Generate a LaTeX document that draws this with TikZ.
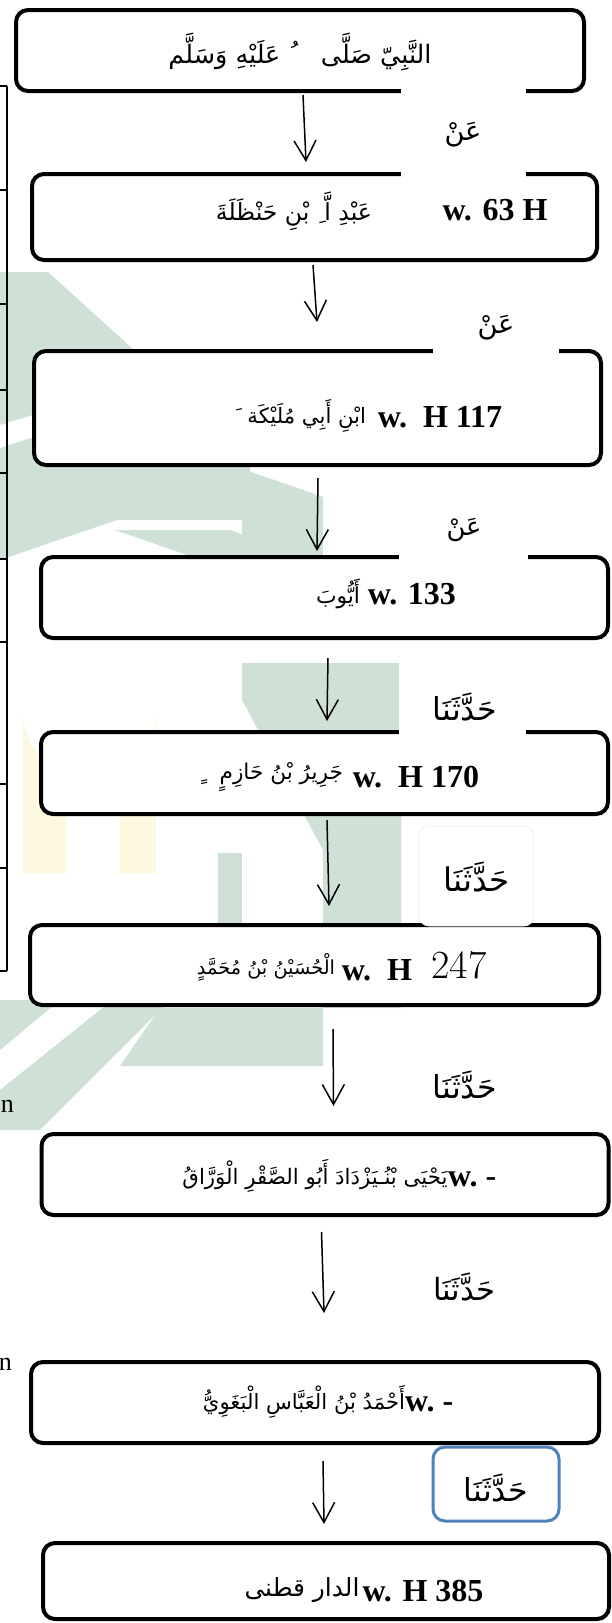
\documentclass[tikz,border=0pt]{standalone}
\usepackage{fontspec}
\usepackage{graphicx}
\newfontfamily\tnr{Liberation Serif}
\newfontfamily\ar[Script=Arabic]{DejaVu Sans}
\TeXXeTstate=1
\usetikzlibrary{arrows.meta,calc}
\newcommand\AR[2]{\resizebox{#1}{!}{\ar\beginR #2\endR}}
\definecolor{wmgreen}{RGB}{207,225,215}
\definecolor{wmyellow}{RGB}{253,249,222}
\definecolor{labblue}{RGB}{79,129,189}
\tikzset{
  box/.style={draw=black, line width=4pt, rounded corners=12pt, fill=white, inner sep=0pt},
  lat/.style={font=\tnr\bfseries\fontsize{32}{36}\selectfont, inner sep=0pt},
  artxt/.style={inner sep=0pt},
  cover/.style={fill=white, draw=none},
  arr/.style={line width=1.5pt, -{Straight Barb[length=20pt,width=22pt]}},
  tbl/.style={line width=1.2pt}
}
\begin{document}
\begin{tikzpicture}[x=1pt,y=-1pt]
\useasboundingbox (0,0) rectangle (611,1623);
\fill[white] (0,0) rectangle (611,1623);
% watermark (approximate)
\fill[wmgreen] (0,272) -- (48,272) -- (250,455) -- (250,475) -- (0,475) -- cycle;
\fill[wmgreen] (0,468) -- (240,468) -- (323,497) -- (323,520) -- (117,520) -- (0,560) -- cycle;
\fill[white] (0,425) -- (175,372) -- (195,384) -- (0,448) -- cycle;
\fill[wmgreen] (242,520) -- (323,520) -- (323,556) -- (242,556) -- cycle;
\fill[wmgreen] (115,530) -- (230,530) -- (300,556) -- (190,556) -- cycle;
\fill[wmgreen] (242,663) -- (401,663) -- (401,1008) -- (323,1008) -- (323,850) -- (242,700) -- cycle;
\fill[wmgreen] (160,1008) -- (323,1008) -- (323,1066) -- (120,1066) -- cycle;
\fill[wmgreen] (0,1000) -- (60,1000) -- (0,1050) -- cycle;
\fill[wmgreen] (0,1090) -- (200,930) -- (240,930) -- (40,1130) -- (0,1130) -- cycle;
\fill[wmgreen] (218,853) -- (242,853) -- (242,960) -- (218,960) -- cycle;
\fill[wmyellow, even odd rule] (23,873) -- (23,712) arc[start angle=180,end angle=0,radius=66.5] -- (156,873) -- cycle
  (66,873) -- (66,735) arc[start angle=180,end angle=0,radius=27] -- (120,873) -- cycle;
% left table fragment
\draw[tbl] (7,86) -- (7,971);
\foreach \yy in {86,190,304,390,473,559,642,784,868,971} \draw[tbl] (0,\yy) -- (7,\yy);
\node[anchor=east, inner sep=0pt, font=\tnr\fontsize{26}{30}\selectfont] (n1) at (14,1106) {n};
\node[anchor=east, inner sep=0pt, font=\tnr\fontsize{26}{30}\selectfont] (n2) at (12,1364) {n};
% boxes
\node[box, minimum width=568pt, minimum height=81pt] (b1) at (300,50.5) {};
\node[box, minimum width=565pt, minimum height=86pt] (b2) at (314.5,217) {};
\node[box, minimum width=567pt, minimum height=114pt] (b3) at (317.5,408) {};
\node[box, minimum width=567pt, minimum height=81pt] (b4) at (324.5,597.5) {};
\node[box, minimum width=567pt, minimum height=82pt] (b5) at (324.5,773) {};
\node[box, minimum width=569pt, minimum height=80pt] (b6) at (314.5,965) {};
\node[box, minimum width=567pt, minimum height=81pt] (b7) at (325,1174.5) {};
\node[box, minimum width=568pt, minimum height=81pt] (b8) at (315,1402.5) {};
\node[box, minimum width=566pt, minimum height=76pt] (b9) at (326,1581) {};
% white covers behind labels
\fill[cover] (401,86) rectangle (526,177);
\fill[cover] (433,300) rectangle (559,354);
\fill[cover] (399,505) rectangle (528,560);
\fill[cover] (399,650) rectangle (526,735);
\filldraw[fill=white, draw=black!6, line width=0.8pt, rounded corners=10pt] (419,826) rectangle (534,926);
\filldraw[fill=white, draw=labblue, line width=3pt, rounded corners=12pt] (433,1447) rectangle (559,1521);
% texts in boxes
\node[artxt] (t1) at (300,52) {\AR{263pt}{النَّبِيّ صَلَّى\ \ \ \ ُ عَلَيْهِ وَسَلَّم}};
\node[artxt] (t2) at (294,211) {\AR{156pt}{عَبْدِ اَّ ِ بْنِ حَنْظَلَةَ}};
\node[lat] (w2) at (495,210) {w. 63 H};
\node[artxt] (t3) at (300,416) {\AR{132pt}{ابْنِ أَبِي مُلَيْكَة\ \ َ}};
\node[lat] (w3) at (440,417) {w.\ \ H 117};
\node[artxt] (t4) at (338,594) {\AR{44pt}{أَيُّوبَ}};
\node[lat] (w4) at (412,594) {w. 133};
\node[artxt] (t5) at (271,777) {\AR{144pt}{جَرِيرُ بْنُ حَازِمٍ\ \ \ ٍ}};
\node[lat] (w5) at (416,777) {w.\ \ H 170};
\node[artxt] (t6) at (266,967) {\AR{138pt}{الْحُسَيْنُ بْنُ مُحَمَّدٍ}};
\node[lat] (w6) at (377,970) {w.\ \ H};
\node[inner sep=0pt, font=\fontsize{40}{44}\selectfont] (y6) at (459,965) {247};
\node[artxt] (t7) at (315,1176) {\AR{265pt}{يَحْيَى بْنُـيَزْدَادَ أَبُو الصَّقْرِ الْوَرَّاقُ}};
\node[lat, anchor=west] (w7) at (448,1179) {w.\ -};
\node[artxt] (t8) at (304,1402) {\AR{202pt}{أَحْمَدُ بْنُ الْعَبَّاسِ الْبَغَوِيُّ}};
\node[lat, anchor=west] (w8) at (405,1404) {w.\ -};
\node[artxt] (t9) at (302,1590) {\AR{115pt}{الدار قطنى}};
\node[lat] (w9) at (423,1591) {w. H 385};
% link labels
\node[artxt] (l1) at (463,135) {\AR{37pt}{عَنْ}};
\node[artxt] (l2) at (496,328) {\AR{37pt}{عَنْ}};
\node[artxt] (l3) at (464,530) {\AR{35pt}{عَنْ}};
\node[artxt] (l4) at (465,707) {\AR{64pt}{حَدَّثَنَا}};
\node[artxt] (l5) at (477,877) {\AR{66pt}{حَدَّثَنَا}};
\node[artxt] (l6) at (465,1085) {\AR{64pt}{حَدَّثَنَا}};
\node[artxt] (l7) at (464,1287) {\AR{62pt}{حَدَّثَنَا}};
\node[artxt] (l8) at (496,1488) {\AR{64pt}{حَدَّثَنَا}};
% arrows
\draw[arr] ($(b1.south west)+(289,2)$) -- ($(b2.north west)+(276,-10)$);
\draw[arr] ($(b2.south west)+(283,3)$) -- ($(b3.north west)+(285,-27)$);
\draw[arr] ($(b3.south west)+(286,11)$) -- ($(b4.north west)+(278,-4)$);
\draw[arr] ($(b4.south west)+(289,18)$) -- ($(b5.north west)+(288,-9)$);
\draw[arr] ($(b5.south west)+(288,4)$) -- ($(b6.north west)+(301,-17)$);
\draw[arr] ($(b6.south west)+(305,22)$) -- ($(b7.north west)+(294,-26)$);
\draw[arr] ($(b7.south west)+(282,15)$) -- ($(b8.north west)+(295,-47)$);
\draw[arr] ($(b8.south west)+(294,16)$) -- ($(b9.north west)+(283,-17)$);
\end{tikzpicture}
\end{document}
